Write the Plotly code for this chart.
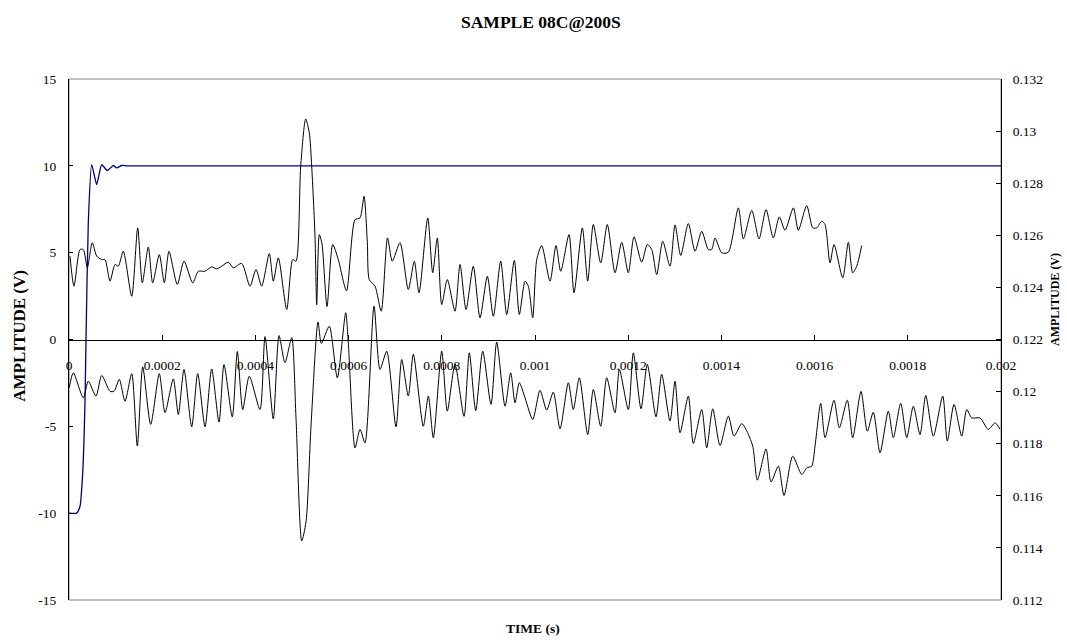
import plotly.graph_objects as go

# ---------------- data ----------------
trigger_time = [0.0, 16.5e-6, 23.6e-6, 29.4e-6, 34.3e-6, 36.5e-6, 41.4e-6, 48.7e-6,
                59.4e-6, 70.2e-6, 82.2e-6, 95.1e-6, 102.4e-6, 113.1e-6, 125e-6, 2000e-6]
trigger_volts = [-10.0, -10.0, -9.6, -7.67, -3.65, 0.0, 6.72, 10.07,
                 8.92, 10.07, 9.73, 10.02, 9.88, 10.02, 10.0, 10.0]

upper_time = [2.1e-6, 10.7e-6, 23.6e-6, 30.7e-6, 39.3e-6, 50.0e-6, 59.4e-6, 70.2e-6, 77.3e-6, 88.0e-6,
              98.7e-6, 105.8e-6, 116.5e-6, 134.6e-6, 147.4e-6, 157.3e-6, 170.2e-6, 179.6e-6, 193.8e-6, 204.5e-6,
              214.6e-6, 232.4e-6, 246.8e-6, 265.5e-6, 277.5e-6, 291.9e-6, 306.2e-6, 317.0e-6, 327.7e-6, 341.9e-6,
              352.6e-6, 370.6e-6, 388.4e-6, 401.3e-6, 413.5e-6, 429.8e-6, 438.4e-6, 449.2e-6, 467.2e-6, 480.1e-6,
              487.1e-6, 497.2e-6, 507.9e-6, 515.7e-6, 520.8e-6, 527.9e-6, 531.6e-6, 537.1e-6, 542.9e-6, 553.7e-6,
              565.9e-6, 577.9e-6, 595.5e-6, 613.8e-6, 624.5e-6, 633.1e-6, 640.2e-6, 644.4e-6, 656.7e-6, 670.0e-6,
              683.5e-6, 693.8e-6, 710.3e-6, 728.1e-6, 741.0e-6, 751.1e-6, 769.8e-6, 780.5e-6, 790.4e-6, 799.8e-6,
              811.8e-6, 828.3e-6, 839.1e-6, 852.0e-6, 867.6e-6, 882.0e-6, 897.7e-6, 910.6e-6, 926.4e-6, 939.3e-6,
              955.6e-6, 966.4e-6, 978.6e-6, 985.7e-6, 995.1e-6, 1003.7e-6, 1014.4e-6, 1032.2e-6, 1045.1e-6, 1055.2e-6,
              1073.0e-6, 1083.7e-6, 1101.6e-6, 1113.1e-6, 1125.1e-6, 1141.0e-6, 1155.2e-6, 1171.7e-6, 1186.1e-6, 1200.3e-6,
              1212.5e-6, 1229.0e-6, 1241.0e-6, 1250.5e-6, 1261.2e-6, 1274.1e-6, 1289.7e-6, 1300.5e-6, 1312.7e-6, 1329.0e-6,
              1343.4e-6, 1357.8e-6, 1371.9e-6, 1379.2e-6, 1386.3e-6, 1400.7e-6, 1414.9e-6, 1436.3e-6, 1447.1e-6, 1465.1e-6,
              1480.7e-6, 1495.8e-6, 1511.4e-6, 1524.3e-6, 1536.5e-6, 1554.4e-6, 1565.1e-6, 1583.1e-6, 1596.0e-6, 1604.6e-6,
              1615.3e-6, 1622.4e-6, 1633.1e-6, 1641.7e-6, 1660.4e-6, 1672.4e-6, 1681.8e-6, 1690.4e-6, 1701.1e-6]
upper_volts = [4.8, 3.07, 5.18, 5.18, 4.13, 5.57, 4.8, 4.6, 4.6, 3.36,
               4.32, 4.22, 5.08, 2.49, 6.43, 3.26, 5.33, 3.26, 4.89, 3.26,
               5.08, 3.17, 4.51, 3.26, 3.93, 3.93, 4.18, 4.07, 4.22, 4.45,
               4.13, 4.38, 3.07, 4.03, 3.07, 4.95, 3.36, 4.7, 1.73, 4.6,
               4.51, 9.98, 12.7, 11.9, 9.98, 5.95, 2.0, 6.04, 5.5, 1.9,
               5.47, 4.6, 2.8, 6.9, 7.0, 8.25, 5.6, 3.45, 3.07, 1.63,
               5.85, 4.51, 5.57, 2.88, 4.51, 2.69, 7.0, 3.84, 5.85, 2.01,
               3.45, 1.63, 4.32, 1.73, 4.22, 1.25, 3.64, 1.34, 4.51, 1.44,
               4.55, 1.44, 3.36, 3.07, 1.25, 4.6, 5.41, 3.36, 5.41, 3.93,
               6.04, 2.69, 6.43, 3.36, 6.62, 4.41, 6.62, 3.84, 5.6, 3.84,
               5.91, 4.45, 5.47, 5.18, 3.74, 5.66, 4.22, 6.6, 4.84, 6.68,
               5.08, 6.23, 5.18, 5.18, 5.85, 4.99, 5.03, 7.58, 5.79, 7.44,
               5.79, 7.48, 5.85, 7.06, 6.29, 7.58, 6.29, 7.71, 6.43, 6.43,
               6.81, 6.62, 4.41, 5.47, 3.55, 5.6, 3.84, 4.22, 5.41]

lower_time = [0.6e-6, 9.2e-6, 30.7e-6, 41.4e-6, 57.9e-6, 70.2e-6, 88.0e-6, 96.6e-6, 107.9e-6, 120.2e-6,
              134.6e-6, 146.6e-6, 158.2e-6, 175.3e-6, 193.8e-6, 206.0e-6, 223.8e-6, 234.6e-6, 246.8e-6, 263.3e-6,
              276.2e-6, 291.9e-6, 306.2e-6, 321.9e-6, 332.6e-6, 350.4e-6, 361.2e-6, 372.8e-6, 386.9e-6, 409.9e-6,
              420.6e-6, 438.4e-6, 450.7e-6, 463.5e-6, 477.9e-6, 487.1e-6, 499.4e-6, 508.6e-6, 519.3e-6, 534.4e-6,
              541.5e-6, 558.6e-6, 575.8e-6, 593.8e-6, 599.4e-6, 613.8e-6, 624.5e-6, 635.2e-6, 654.5e-6, 667.4e-6,
              681.8e-6, 701.7e-6, 714.0e-6, 728.1e-6, 738.9e-6, 760.3e-6, 771.1e-6, 781.8e-6, 799.8e-6, 811.8e-6,
              828.3e-6, 847.7e-6, 859.0e-6, 872.8e-6, 887.8e-6, 905.6e-6, 917.8e-6, 935.7e-6, 947.9e-6, 957.1e-6,
              966.4e-6, 978.6e-6, 995.1e-6, 1010.8e-6, 1025.1e-6, 1039.3e-6, 1053.7e-6, 1071.5e-6, 1082.2e-6, 1095.1e-6,
              1113.1e-6, 1125.1e-6, 1141.0e-6, 1153.9e-6, 1171.7e-6, 1181.0e-6, 1200.3e-6, 1211.0e-6, 1227.5e-6, 1241.0e-6,
              1259.7e-6, 1271.9e-6, 1289.7e-6, 1300.5e-6, 1311.2e-6, 1329.0e-6, 1339.7e-6, 1357.8e-6, 1368.5e-6, 1381.4e-6,
              1397.0e-6, 1414.9e-6, 1427.1e-6, 1443.6e-6, 1452.8e-6, 1467.2e-6, 1477.1e-6, 1495.8e-6, 1506.5e-6, 1522.2e-6,
              1534.4e-6, 1553.1e-6, 1572.4e-6, 1583.1e-6, 1593.8e-6, 1600.9e-6, 1613.1e-6, 1622.4e-6, 1641.7e-6, 1653.1e-6,
              1670.2e-6, 1681.8e-6, 1699.6e-6, 1713.1e-6, 1726.0e-6, 1740.4e-6, 1758.2e-6, 1768.9e-6, 1784.8e-6, 1797.7e-6,
              1811.9e-6, 1826.2e-6, 1838.5e-6, 1854.8e-6, 1875.0e-6, 1884.8e-6, 1899.2e-6, 1915.7e-6, 1926.5e-6, 1937.2e-6,
              1955.0e-6, 1972.8e-6, 1987.2e-6, 1997.9e-6]
lower_volts = [0.12015, 0.12072, 0.11976, 0.1204, 0.11983, 0.12062, 0.12001, 0.12001, 0.12047, 0.11963,
               0.12069, 0.11791, 0.12095, 0.11874, 0.12069, 0.11919, 0.12049, 0.11912, 0.12085, 0.11865,
               0.12069, 0.11865, 0.12087, 0.11883, 0.12104, 0.11903, 0.12154, 0.11931, 0.12059, 0.11931,
               0.12211, 0.11895, 0.12215, 0.12111, 0.12207, 0.119, 0.11427, 0.115, 0.11867, 0.12267,
               0.12185, 0.12251, 0.12053, 0.12303, 0.12187, 0.11784, 0.11855, 0.11803, 0.12328, 0.12085,
               0.12155, 0.11865, 0.12123, 0.11983, 0.12143, 0.11867, 0.11983, 0.11823, 0.12155, 0.11925,
               0.12104, 0.11905, 0.12149, 0.11927, 0.12155, 0.11951, 0.1219, 0.11944, 0.12072, 0.11957,
               0.12034, 0.11976, 0.11893, 0.12005, 0.11929, 0.11998, 0.11857, 0.12034, 0.11931, 0.12053,
               0.11835, 0.12008, 0.11867, 0.12053, 0.11919, 0.12085, 0.11931, 0.12149, 0.11934, 0.12104,
               0.11903, 0.12066, 0.11887, 0.1204, 0.11842, 0.11983, 0.11801, 0.11931, 0.11784, 0.11934,
               0.11793, 0.11906, 0.11829, 0.11877, 0.11855, 0.11791, 0.1166, 0.1178, 0.11653, 0.11714,
               0.11601, 0.11752, 0.11682, 0.11707, 0.11714, 0.11791, 0.11955, 0.11823, 0.11967, 0.11861,
               0.11967, 0.11823, 0.12001, 0.11848, 0.11921, 0.11765, 0.11925, 0.11823, 0.11955, 0.11823,
               0.11944, 0.11835, 0.11985, 0.11829, 0.11983, 0.1181, 0.11951, 0.11829, 0.11931, 0.11899,
               0.11899, 0.11855, 0.1188, 0.11855]

x_tickvals = [0, 0.0002, 0.0004, 0.0006, 0.0008, 0.001, 0.0012, 0.0014, 0.0016, 0.0018, 0.002]
x_ticktext = ["0", "0.0002", "0.0004", "0.0006", "0.0008", "0.001", "0.0012", "0.0014", "0.0016", "0.0018", "0.002"]
y_tickvals = [-15, -10, -5, 0, 5, 10, 15]
y_ticktext = ["-15", "-10", "-5", "0", "5", "10", "15"]
y2_tickvals = [0.112, 0.114, 0.116, 0.118, 0.12, 0.122, 0.124, 0.126, 0.128, 0.13, 0.132]
y2_ticktext = ["0.112", "0.114", "0.116", "0.118", "0.12", "0.122", "0.124", "0.126", "0.128", "0.13", "0.132"]

TITLE = "SAMPLE 08C@200S"
X_TITLE = "TIME (s)"
Y_TITLE = "AMPLITUDE (V)"

# ---------------- figure ----------------
SERIF = "Liberation Serif, Times New Roman, serif"
TICKFONT = dict(family=SERIF, size=13.5, color="#000000")

fig = go.Figure()
fig.add_trace(go.Scatter(x=upper_time, y=upper_volts, mode="lines",
                         line=dict(color="#000000", width=1, shape="spline", smoothing=0.7),
                         yaxis="y"))
fig.add_trace(go.Scatter(x=lower_time, y=lower_volts, mode="lines",
                         line=dict(color="#000000", width=1, shape="spline", smoothing=0.7),
                         yaxis="y2"))
fig.add_trace(go.Scatter(x=trigger_time, y=trigger_volts, mode="lines",
                         line=dict(color="#000080", width=1.3, shape="spline", smoothing=0.5),
                         yaxis="y"))

fig.update_layout(
    width=1067, height=640,
    margin=dict(l=69, r=66, t=79, b=40),
    paper_bgcolor="white", plot_bgcolor="white",
    showlegend=False,
    font=dict(family=SERIF, color="#000000", size=12),
    xaxis=dict(range=[0, 0.002], anchor="free", position=0.5,
               showline=True, linecolor="#000000", linewidth=1,
               ticks="inside", ticklen=5, tickcolor="#000000",
               tickvals=x_tickvals, ticktext=x_ticktext,
               ticklabelstandoff=13,
               showgrid=False, zeroline=False,
               tickfont=TICKFONT),
    yaxis=dict(range=[-15, 15], tickvals=y_tickvals, ticktext=y_ticktext,
               showline=True, linecolor="#000000", linewidth=1,
               ticks="inside", ticklen=4, tickcolor="#000000",
               ticklabelstandoff=9,
               showgrid=False, zeroline=False,
               tickfont=TICKFONT),
    yaxis2=dict(range=[0.112, 0.132], overlaying="y", side="right", anchor="x",
                tickvals=y2_tickvals, ticktext=y2_ticktext,
                showline=True, linecolor="#000000", linewidth=1,
                ticks="inside", ticklen=5, tickcolor="#000000",
                ticklabelstandoff=8,
                showgrid=False, zeroline=False,
                tickfont=TICKFONT),
    shapes=[dict(type="rect", xref="paper", yref="paper", x0=0, x1=1, y0=0, y1=1,
                 line=dict(color="#808080", width=1), layer="below")],
    annotations=[
        dict(text="<b>" + TITLE + "</b>", xref="paper", yref="paper", x=0.506, y=1.110,
             xanchor="center", yanchor="middle", showarrow=False,
             font=dict(family=SERIF, size=17.5, color="#000000")),
        dict(text="<b>" + X_TITLE + "</b>", xref="paper", yref="paper", x=0.498, y=-0.054,
             xanchor="center", yanchor="middle", showarrow=False,
             font=dict(family=SERIF, size=13.5, color="#000000")),
        dict(text="<b>" + Y_TITLE + "</b>", xref="paper", yref="paper", x=-0.0526, y=0.507,
             xanchor="center", yanchor="middle", showarrow=False, textangle=-90,
             font=dict(family=SERIF, size=17, color="#000000")),
        dict(text="<b>" + Y_TITLE + "</b>", xref="paper", yref="paper", x=1.058, y=0.576,
             xanchor="center", yanchor="middle", showarrow=False, textangle=-90,
             font=dict(family=SERIF, size=12, color="#000000")),
    ],
)

fig.write_html("out.html")
